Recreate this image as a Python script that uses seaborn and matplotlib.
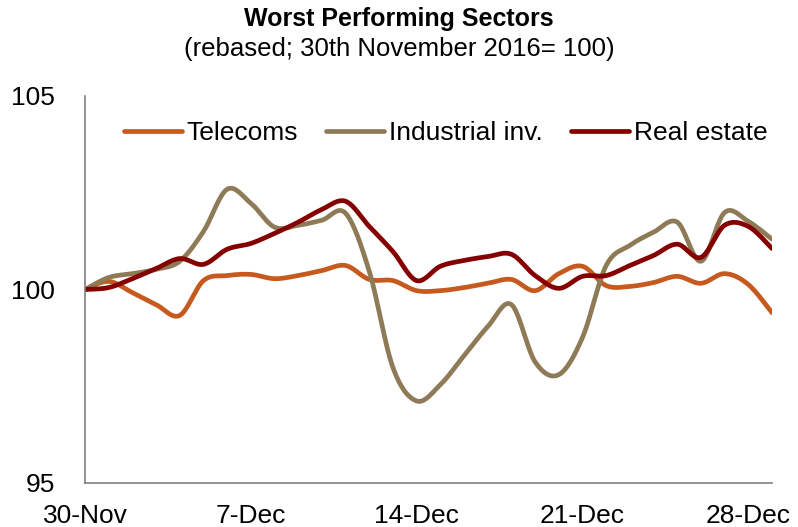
import numpy as np
import pandas as pd
import matplotlib
matplotlib.use("Agg")
import matplotlib.pyplot as plt
import seaborn as sns

# daily dates, 30 Nov 2016 = 100
dates = pd.date_range("2016-11-30", "2016-12-29", freq="D")

telecoms = [100.00, 100.21, 99.92, 99.61, 99.33, 100.23, 100.36, 100.39, 100.28, 100.36,
            100.49, 100.62, 100.26, 100.23, 99.97, 99.97, 100.05, 100.16, 100.26, 99.97,
            100.41, 100.60, 100.10, 100.08, 100.18, 100.34, 100.16, 100.41, 100.13, 99.40]
industrial = [100.00, 100.31, 100.41, 100.52, 100.73, 101.50, 102.59, 102.23, 101.61, 101.66,
              101.79, 101.97, 100.47, 97.98, 97.12, 97.54, 98.29, 99.04, 99.61, 98.13,
              97.80, 98.76, 100.62, 101.14, 101.48, 101.74, 100.73, 101.99, 101.76, 101.30]
real_estate = [100.00, 100.05, 100.28, 100.54, 100.80, 100.65, 101.04, 101.19, 101.45, 101.74,
               102.07, 102.28, 101.63, 100.98, 100.23, 100.60, 100.75, 100.85, 100.91, 100.36,
               100.03, 100.34, 100.36, 100.62, 100.88, 101.17, 100.83, 101.66, 101.63, 101.06]

series_names = ["Telecoms", "Industrial inv.", "Real estate"]
colors = {"Telecoms": "#C65A1E", "Industrial inv.": "#8E7A57", "Real estate": "#850000"}

tick_dates = ["2016-11-30", "2016-12-07", "2016-12-14", "2016-12-21", "2016-12-28"]
tick_labels = ["30-Nov", "7-Dec", "14-Dec", "21-Dec", "28-Dec"]
y_ticks = [95, 100, 105]


# smoothed line like the spreadsheet "smooth line" option (catmull-rom)
def smooth(x, y, n=20):
    x = np.asarray(x, float)
    y = np.asarray(y, float)
    px = np.concatenate([[x[0]], x, [x[-1]]])
    py = np.concatenate([[y[0]], y, [y[-1]]])
    t = np.linspace(0, 1, n, endpoint=False)
    xs, ys = [], []
    for i in range(1, len(x)):
        for p, out in ((px, xs), (py, ys)):
            p0, p1, p2, p3 = p[i - 1], p[i], p[i + 1], p[i + 2]
            out.append(0.5 * (2 * p1 + (-p0 + p2) * t + (2 * p0 - 5 * p1 + 4 * p2 - p3) * t ** 2
                              + (-p0 + 3 * p1 - 3 * p2 + p3) * t ** 3))
    xs.append([x[-1]])
    ys.append([y[-1]])
    return np.concatenate(xs), np.concatenate(ys)


days = (dates - dates[0]).days.values
frames = []
for name, vals in zip(series_names, [telecoms, industrial, real_estate]):
    sx, sy = smooth(days, vals)
    frames.append(pd.DataFrame({"day": sx, "value": sy, "series": name}))
df = pd.concat(frames, ignore_index=True)

sns.set_style("white")
plt.rcParams["font.family"] = ["Liberation Sans", "DejaVu Sans"]
plt.rcParams["text.color"] = "black"

fig = plt.figure(figsize=(7.98, 5.27), dpi=100)
ax = fig.add_axes([85 / 798, 1 - 483 / 527, (772 - 85) / 798, (483 - 96) / 527])

sns.lineplot(data=df, x="day", y="value", hue="series", palette=colors,
             hue_order=series_names, estimator=None, sort=False, linewidth=3.4, ax=ax)

ax.set_xlim(days[0], days[-1])
ax.set_ylim(95, 105)
tick_pos = (pd.to_datetime(tick_dates) - dates[0]).days.values
ax.set_xticks(tick_pos)
ax.set_xticklabels(tick_labels)
ax.set_yticks(y_ticks)
ax.set_xlabel("")
ax.set_ylabel("")

for s in ["top", "right"]:
    ax.spines[s].set_visible(False)
for s in ["left", "bottom"]:
    ax.spines[s].set_color("#808080")
    ax.spines[s].set_linewidth(1.2)
ax.tick_params(axis="both", direction="out", length=5.8, width=1.2, color="#808080",
               labelsize=19, labelcolor="black")
ax.tick_params(axis="y", pad=16)
ax.tick_params(axis="x", pad=9)

handles, labels = ax.get_legend_handles_labels()
ax.legend(handles, labels, loc="center", bbox_to_anchor=(0.525, 0.904), ncol=3,
          frameon=False, fontsize=19, handlelength=2.2, handletextpad=0.2,
          columnspacing=1.05)

fig.text(0.5, 1 - 19 / 527, "Worst Performing Sectors", ha="center", va="center",
         fontsize=18, fontweight="bold")
fig.text(0.5, 1 - 49 / 527, "(rebased; 30th November 2016= 100)", ha="center", va="center",
         fontsize=18.5)

fig.savefig("out.png", dpi=100)
